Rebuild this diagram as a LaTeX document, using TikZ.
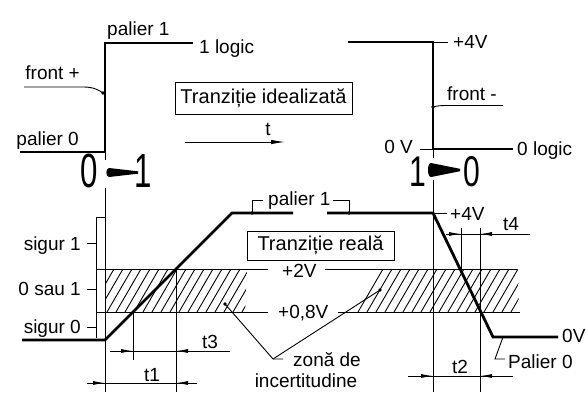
\documentclass[tikz,border=0pt]{standalone}
\usepackage{fontspec}
\setmainfont{Liberation Sans}
\usetikzlibrary{arrows.meta}
\begin{document}
\begin{tikzpicture}[x=1pt,y=-1pt,
  lbl/.style={font=\fontsize{19}{19}\selectfont, inner sep=0pt},
  boxlbl/.style={draw, line width=1pt, font=\fontsize{20}{20}\selectfont, inner sep=0pt},
  big/.style={font=\fontsize{48}{48}\selectfont, inner sep=0pt, anchor=base},
  bigr/.style={font=\fontsize{43}{43}\selectfont, inner sep=0pt, anchor=base},
  wave/.style={line width=2.8pt},
  fine/.style={line width=0.9pt},
  dimarrow/.style={line width=0.9pt, -{Latex[length=12pt,width=4pt]}},
  dotc/.style={circle, fill, inner sep=0pt, minimum size=3.6pt}
]
\useasboundingbox (0,0) rectangle (586,392);

% ---------- ideal transition 0 -> 1 ----------
\draw[wave] (20,152) -- (105,152) -- (105,43) -- (193,43);
\node[lbl, anchor=base west] (p1top) at (107,35) {palier 1};
\node[lbl, anchor=base west] (logic1) at (199,53) {1 logic};
\node[lbl, anchor=base east] (frontp) at (80,79) {front +};
\node[lbl, anchor=base east] (p0top) at (79,145) {palier 0};
\node[dotc] (fpdot) at (103,93) {};
\draw[fine] (24,87) -- (84,87) .. controls (93,87) and (99,90) .. (fpdot.center);

% ---------- ideal transition 1 -> 0 ----------
\draw[wave] (348,42) -- (433,42) -- (433,149) -- (513,149);
\draw[fine] (433,42) -- (448,42);
\draw[fine] (420,149) -- (433,149);
\node[lbl, anchor=base west] (v4top) at (453,48) {+4V};
\node[lbl, anchor=base west] (frontm) at (447,100) {front -};
\node[lbl, anchor=base east] (v0top) at (413,153) {0 V};
\node[lbl, anchor=base west] (logic0) at (517,155) {0 logic};
\node[dotc] (fmdot) at (433,107) {};
\draw[fine] (fmdot.center) .. controls (436,106) and (440,105.5) .. (446,105.5) -- (503,105.5);

% ---------- idealised box and time arrow ----------
\node[boxlbl, minimum width=177pt, minimum height=32pt] (ideal) at (263.5,98) {Tranziție idealizată};
\node[lbl, anchor=base] (tlab) at (268,135) {t};
\coordinate (ta) at (185,142);
\coordinate (tb) at (285,142);
\draw[fine, -{Latex[length=14pt,width=4.5pt]}] (ta) -- (tb);

% ---------- big 0 -> 1 and 1 -> 0 ----------
\node[big] (bz1) at (89.5,187) {\scalebox{0.65}[1]{0}};
\node[big] (bo1) at (143.5,187) {\scalebox{0.65}[1]{1}};
\fill (109,168) -- (138,171.3) -- (138,173.7) -- (109,177) .. controls (105.5,177) and (105.5,168) .. (109,168) -- cycle;
\node[bigr] (bo2) at (418,186) {\scalebox{0.7}[1]{1}};
\node[bigr] (bz2) at (472,186) {\scalebox{0.7}[1]{0}};
\fill (431,163) -- (460,168.8) -- (460,171.2) -- (431,177) .. controls (427,177) and (427,163) .. (431,163) -- cycle;

% thin verticals
\draw[fine] (105,152) -- (105,160);
\draw[fine] (105,188) -- (105,392);
\draw[fine] (433,149) -- (433,158);
\draw[fine] (433,180) -- (433,392);

% ---------- hatched uncertainty zone ----------
\begin{scope}
  \clip (105,269) -- (247,269) -- (245,312) -- (105,312) -- cycle;
  \foreach \x in {80,89,...,260} \draw[fine] (\x,312) -- ++(25,-43);
\end{scope}
\begin{scope}
  \clip (353,312) -- (375,269) -- (518,269) -- (519,312) -- cycle;
  \foreach \x in {340,349,...,530} \draw[fine] (\x,312) -- ++(25,-43);
\end{scope}
\draw[fine] (96,269) -- (268,269);
\node[lbl, anchor=base west] (v2) at (282,277) {+2V};
\draw[fine] (325,269) -- (517,269);
\draw[fine] (96,312) -- (268,312);
\node[lbl, anchor=base west] (v08) at (278,318) {+0,8V};
\draw[fine] (338,312) -- (520,312);

% level scale
\draw[fine] (105,217) -- (96,217) -- (96,338);
\draw[fine] (87,243) -- (96,243);
\draw[fine] (87,289) -- (96,289);
\draw[fine] (87,327) -- (96,327);
\node[lbl, anchor=base east] (s1) at (81,250) {sigur 1};
\node[lbl, anchor=base east] (s01) at (81,295) {0 sau 1};
\node[lbl, anchor=base east] (s0) at (81,333) {sigur 0};

% ---------- real transition ----------
\draw[wave] (22,340) -- (105,340) -- (232,213) -- (293,213);
\draw[wave] (327,213) -- (433,213) -- (493,337) -- (558,337);
\draw[fine] (433,213) -- (447,213);
\node[lbl, anchor=base west] (v4) at (450,220) {+4V};
\node[lbl, anchor=base west] (v0) at (562,342) {0V};
\node[boxlbl, minimum width=147pt, minimum height=29pt] (real) at (320.5,245.5) {Tranziție reală};

\node[lbl, anchor=base west] (p1low) at (268,205) {palier 1};
\node[dotc] (pl1) at (252,213) {};
\node[dotc] (pl2) at (349,213) {};
\draw[fine] (263,200) -- (252,200) -- (pl1.center);
\draw[fine] (333,200) -- (349,200) -- (pl2.center);

\node[lbl, anchor=base west] (p0low) at (508,368) {Palier 0};
\draw[fine] (503,337) -- (495,359) -- (505,359);

% zone label
\node[lbl, anchor=base west] (zona) at (293,366) {zonă de};
\node[lbl, anchor=base] (incert) at (306,387) {incertitudine};
\node[dotc] (zd1) at (225,304) {};
\node[dotc] (zd2) at (380,290) {};
\coordinate (zv) at (273,359);
\draw[fine] (283,359) -- (zv) -- (zd1.center);
\draw[fine] (zv) -- (zd2.center);

% ---------- dimensions ----------
\draw[fine] (133,313) -- (133,360);
\draw[fine] (176,269) -- (176,392);
\draw[fine] (461,228) -- (461,269);
\draw[fine] (480,228) -- (480,392);

% t3
\draw[fine] (110,351) -- (230,351);
\draw[dimarrow] (112,351) -- (133,351);
\draw[dimarrow] (197,351) -- (176,351);
\node[lbl, anchor=base west] (t3) at (202,348) {t3};
% t1
\draw[fine] (87,383) -- (197,383);
\draw[dimarrow] (87,383) -- (105,383);
\draw[dimarrow] (197,383) -- (176,383);
\node[lbl, anchor=base west] (t1) at (144,381) {t1};
% t4
\draw[fine] (447,234) -- (530,234);
\draw[dimarrow] (446,234) -- (461,234);
\draw[dimarrow] (497,234) -- (480,234);
\node[lbl, anchor=base west] (t4) at (503,230) {t4};
% t2
\draw[fine] (408,376) -- (513,376);
\draw[dimarrow] (412,376) -- (433,376);
\draw[dimarrow] (500,376) -- (480,376);
\node[lbl, anchor=base west] (t2) at (452,373) {t2};
\end{tikzpicture}
\end{document}
